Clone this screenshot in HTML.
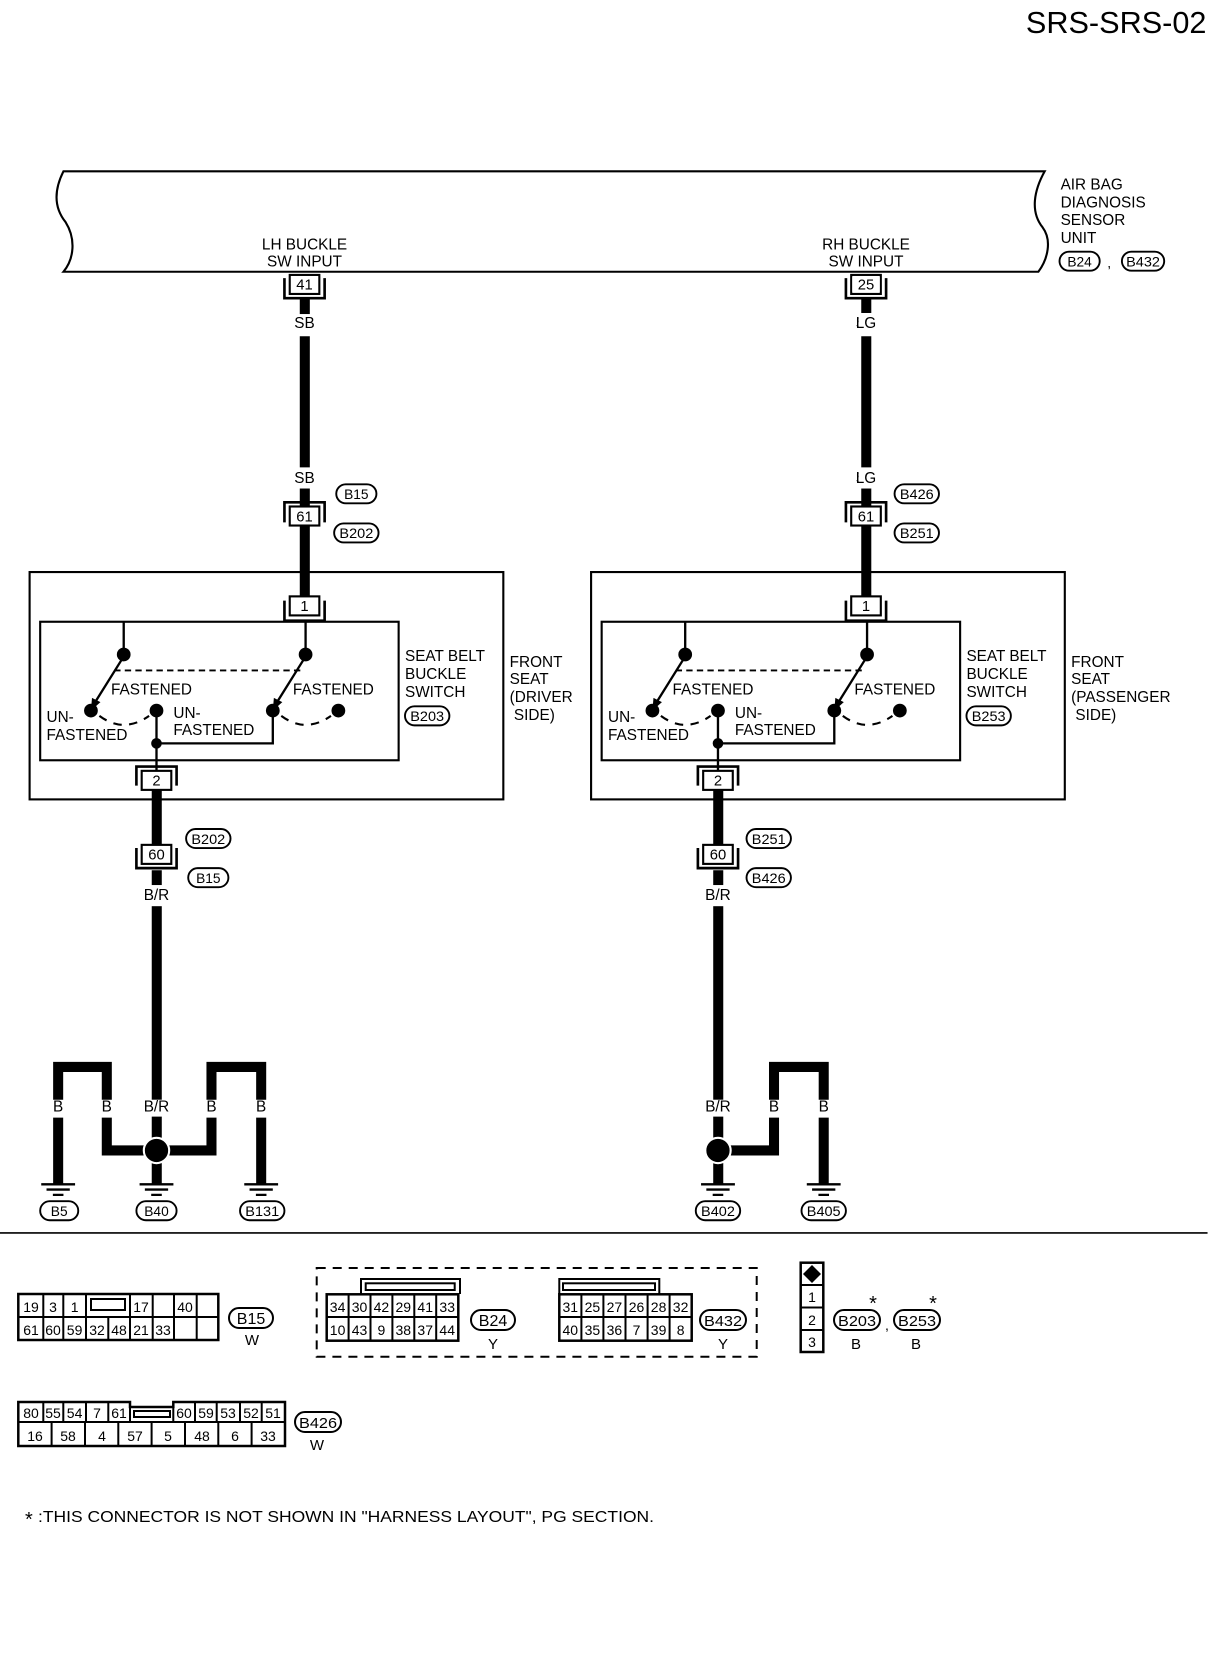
<!DOCTYPE html>
<html><head><meta charset="utf-8"><style>
html,body{margin:0;padding:0;background:#fff;}
svg{display:block;}
text{font-family:"Liberation Sans",sans-serif;fill:#000;}
</style></head><body>
<svg width="1216" height="1660" viewBox="0 0 1216 1660" xmlns="http://www.w3.org/2000/svg">
<rect width="1216" height="1660" fill="#fff"/>
<defs>
  <g id="swl">
    <rect x="38" y="588" width="339" height="131" fill="none" stroke="#000" stroke-width="2"/>
    <path d="M117 588 V619 M289 588 V619" stroke="#000" stroke-width="2.2" fill="none"/>
    <circle cx="117" cy="619" r="6.5"/><circle cx="289" cy="619" r="6.5"/>
    <path d="M115 624 L90 664 M287 624 L262 664" stroke="#000" stroke-width="2.2"/>
    <path d="M86 672 l1 -12 l8 4 z M258 672 l1 -12 l8 4 z" fill="#000"/>
    <path d="M108 634 H284" stroke="#000" stroke-width="1.8" stroke-dasharray="6,4"/>
    <circle cx="86" cy="672" r="6.5"/><circle cx="148" cy="672" r="6.5"/>
    <circle cx="258" cy="672" r="6.5"/><circle cx="320" cy="672" r="6.5"/>
    <path d="M94 677 Q117 694 141 677 M266 677 Q289 694 313 677" stroke="#000" stroke-width="2" fill="none" stroke-dasharray="8,7"/>
    <path d="M148 672 V729 M148 703 H258 V672" stroke="#000" stroke-width="2.2" fill="none"/>
    <circle cx="148" cy="703" r="5"/>
    <text x="105" y="657" font-size="14.5">FASTENED</text>
    <text x="277" y="657" font-size="14.5">FASTENED</text>
    <text x="44" y="683" font-size="14.5">UN-</text>
    <text x="44" y="700" font-size="14.5">FASTENED</text>
    <text x="164" y="679" font-size="14.5">UN-</text>
    <text x="164" y="695" font-size="14.5">FASTENED</text>
    <text x="383" y="625" font-size="14.5">SEAT BELT</text>
    <text x="383" y="642" font-size="14.5">BUCKLE</text>
    <text x="383" y="659" font-size="14.5">SWITCH</text>
    <rect x="28" y="541" width="448" height="215" fill="none" stroke="#000" stroke-width="2"/>
    <rect x="274" y="564" width="28" height="18" fill="#fff" stroke="#000" stroke-width="2"/>
    <text x="288" y="578" font-size="14" text-anchor="middle">1</text>
    <path d="M269 568 V587 H307 V568" fill="none" stroke="#000" stroke-width="2.5"/>
    <rect x="134" y="729" width="28" height="18" fill="#fff" stroke="#000" stroke-width="2"/>
    <text x="148" y="743" font-size="14" text-anchor="middle">2</text>
    <path d="M129 743 V725 H167 V743" fill="none" stroke="#000" stroke-width="2.5"/>
  </g>
</defs>
<g transform="scale(1.0574)">
  <text x="1141" y="31" font-size="29" text-anchor="end">SRS-SRS-02</text>
  <path d="M60 162 H988 C978 180,974 200,986 215 C995 227,991 245,982 257 H60 C70 245,72 226,62 210 C50 195,52 178,60 162 Z" fill="none" stroke="#000" stroke-width="2"/>
  <text x="288" y="236" font-size="14.5" text-anchor="middle">LH BUCKLE</text>
  <text x="288" y="252" font-size="14.5" text-anchor="middle">SW INPUT</text>
  <text x="819" y="236" font-size="14.5" text-anchor="middle">RH BUCKLE</text>
  <text x="819" y="252" font-size="14.5" text-anchor="middle">SW INPUT</text>
  <text x="1003" y="179" font-size="14.5">AIR BAG</text>
  <text x="1003" y="196" font-size="14.5">DIAGNOSIS</text>
  <text x="1003" y="213" font-size="14.5">SENSOR</text>
  <text x="1003" y="230" font-size="14.5">UNIT</text>

  <g id="left">
    <g fill="#000">
      <rect x="283.5" y="283" width="9.5" height="14"/>
      <rect x="283.5" y="318" width="9.5" height="124"/>
      <rect x="283.5" y="462" width="9.5" height="103"/>
      <rect x="143.5" y="747" width="9.5" height="52"/>
      <rect x="143.5" y="823" width="9.5" height="14"/>
      <rect x="143.5" y="857" width="9.5" height="183"/>
      <rect x="143.5" y="1056" width="9.5" height="64"/>
    </g>
    <text x="288" y="310" font-size="14.5" text-anchor="middle">SB</text>
    <text x="288" y="457" font-size="14.5" text-anchor="middle">SB</text>
    <rect x="274" y="260" width="28" height="18" fill="#fff" stroke="#000" stroke-width="2"/>
    <path d="M269 263 V282 H307 V263" fill="none" stroke="#000" stroke-width="2.5"/>
    <rect x="274" y="479" width="28" height="18" fill="#fff" stroke="#000" stroke-width="2"/>
    <path d="M269 494 V475 H307 V494" fill="none" stroke="#000" stroke-width="2.5"/>
    <rect x="134" y="799" width="28" height="18" fill="#fff" stroke="#000" stroke-width="2"/>
    <path d="M129 802 V821 H167 V802" fill="none" stroke="#000" stroke-width="2.5"/>
    <text x="148" y="851" font-size="14.5" text-anchor="middle">B/R</text>
    <use href="#swl"/>
  </g>
  <text x="288" y="274" font-size="14" text-anchor="middle">41</text>
  <text x="288" y="493" font-size="14" text-anchor="middle">61</text>
  <text x="148" y="813" font-size="14" text-anchor="middle">60</text>
  <use href="#left" transform="translate(531,0)"/>
  <rect x="806" y="262" width="26" height="14" fill="#fff"/>
  <text x="819" y="274" font-size="14" text-anchor="middle">25</text>
  <text x="819" y="493" font-size="14" text-anchor="middle">61</text>
  <text x="679" y="813" font-size="14" text-anchor="middle">60</text>
  <rect x="812" y="296" width="16" height="20" fill="#fff"/>
  <rect x="812" y="443" width="16" height="18" fill="#fff"/>
  <text x="819" y="310" font-size="14.5" text-anchor="middle">LG</text>
  <text x="819" y="457" font-size="14.5" text-anchor="middle">LG</text>

  <text x="482" y="631" font-size="14.5">FRONT</text>
  <text x="482" y="647" font-size="14.5">SEAT</text>
  <text x="482" y="664" font-size="14.5">(DRIVER</text>
  <text x="482" y="681" font-size="14.5">&#160;SIDE)</text>
  <text x="1013" y="631" font-size="14.5">FRONT</text>
  <text x="1013" y="647" font-size="14.5">SEAT</text>
  <text x="1013" y="664" font-size="14.5">(PASSENGER</text>
  <text x="1013" y="681" font-size="14.5">&#160;SIDE)</text>

  <g fill="#fff" stroke="#000" stroke-width="1.8">
    <rect x="1002" y="238" width="38" height="18" rx="9"/>
    <rect x="1061" y="238" width="40" height="18" rx="9"/>
    <rect x="318" y="458" width="38" height="18" rx="9"/>
    <rect x="316" y="495" width="42" height="18" rx="9"/>
    <rect x="846" y="458" width="42" height="18" rx="9"/>
    <rect x="846" y="495" width="42" height="18" rx="9"/>
    <rect x="383" y="668" width="42" height="18" rx="9"/>
    <rect x="914" y="668" width="42" height="18" rx="9"/>
    <rect x="176" y="784" width="42" height="18" rx="9"/>
    <rect x="178" y="821" width="38" height="18" rx="9"/>
    <rect x="706" y="784" width="42" height="18" rx="9"/>
    <rect x="706" y="821" width="42" height="18" rx="9"/>
    <rect x="38" y="1136" width="36" height="18" rx="9"/>
    <rect x="129" y="1136" width="38" height="18" rx="9"/>
    <rect x="227" y="1136" width="42" height="18" rx="9"/>
    <rect x="658" y="1136" width="42" height="18" rx="9"/>
    <rect x="758" y="1136" width="42" height="18" rx="9"/>
  </g>
  <g font-size="13" text-anchor="middle">
    <text x="1021" y="252">B24</text><text x="1049" y="253">,</text>
    <text x="1081" y="252" textLength="32" lengthAdjust="spacingAndGlyphs">B432</text>
    <text x="337" y="472">B15</text>
    <text x="337" y="509" textLength="32" lengthAdjust="spacingAndGlyphs">B202</text>
    <text x="867" y="472" textLength="32" lengthAdjust="spacingAndGlyphs">B426</text>
    <text x="867" y="509" textLength="32" lengthAdjust="spacingAndGlyphs">B251</text>
    <text x="404" y="682" textLength="32" lengthAdjust="spacingAndGlyphs">B203</text>
    <text x="935" y="682" textLength="32" lengthAdjust="spacingAndGlyphs">B253</text>
    <text x="197" y="798" textLength="32" lengthAdjust="spacingAndGlyphs">B202</text>
    <text x="197" y="835">B15</text>
    <text x="727" y="798" textLength="32" lengthAdjust="spacingAndGlyphs">B251</text>
    <text x="727" y="835" textLength="32" lengthAdjust="spacingAndGlyphs">B426</text>
    <text x="56" y="1150">B5</text>
    <text x="148" y="1150">B40</text>
    <text x="248" y="1150" textLength="32" lengthAdjust="spacingAndGlyphs">B131</text>
    <text x="679" y="1150" textLength="32" lengthAdjust="spacingAndGlyphs">B402</text>
    <text x="779" y="1150" textLength="32" lengthAdjust="spacingAndGlyphs">B405</text>
  </g>

  <g fill="none" stroke="#000" stroke-width="9.5">
    <path d="M55 1040 V1009 H101 V1040"/>
    <path d="M101 1057 V1088 H140"/>
    <path d="M55 1057 V1120"/>
    <path d="M200 1040 V1009 H247 V1040"/>
    <path d="M156 1088 H200 V1057"/>
    <path d="M247 1057 V1120"/>
    <path d="M732 1040 V1009 H779 V1040"/>
    <path d="M687 1088 H732 V1057"/>
    <path d="M779 1057 V1120"/>
  </g>
  <circle cx="148" cy="1088" r="12" fill="#000" stroke="#fff" stroke-width="2"/>
  <circle cx="679" cy="1088" r="12" fill="#000" stroke="#fff" stroke-width="2"/>
  <g font-size="14.5" text-anchor="middle">
    <text x="55" y="1051">B</text><text x="101" y="1051">B</text><text x="200" y="1051">B</text><text x="247" y="1051">B</text>
    <text x="148" y="1051">B/R</text>
    <text x="679" y="1051">B/R</text><text x="732" y="1051">B</text><text x="779" y="1051">B</text>
  </g>
  <g stroke="#000" stroke-width="2.2">
    <path d="M39 1120 H71 M44 1125 H66 M50 1130 H60"/>
    <path d="M132 1120 H164 M137 1125 H159 M143 1130 H153"/>
    <path d="M231 1120 H263 M236 1125 H258 M242 1130 H252"/>
    <path d="M663 1120 H695 M668 1125 H690 M674 1130 H684"/>
    <path d="M763 1120 H795 M768 1125 H790 M774 1130 H784"/>
  </g>
  <path d="M0 1166 H1142" stroke="#000" stroke-width="1.5"/>
</g>

<g stroke="#000" fill="none">
  <rect x="18.3" y="1294" width="200" height="46" stroke-width="2.5"/>
  <path d="M18.3 1317 H218.3 M43.3 1294 V1340 M63.3 1294 V1340 M86 1294 V1340 M130 1294 V1340 M152.7 1294 V1340 M174 1294 V1340 M196.7 1294 V1340 M108.3 1317 V1340" stroke-width="2"/>
  <rect x="91" y="1299" width="34" height="11" stroke-width="2"/>
  <path d="M18.3 1402 H130 V1407 H173.3 V1402 H285 V1446 H18.3 Z" stroke-width="2.5"/>
  <path d="M18.3 1422 H285 M43.3 1402 V1422 M63.3 1402 V1422 M86 1402 V1422 M108.3 1402 V1422 M130 1407 V1422 M173.3 1407 V1422 M195 1402 V1422 M216.7 1402 V1422 M240 1402 V1422 M261.7 1402 V1422" stroke-width="2"/>
  <path d="M51.6 1422 V1446 M85 1422 V1446 M118.3 1422 V1446 M151.6 1422 V1446 M185 1422 V1446 M218.3 1422 V1446 M251.6 1422 V1446" stroke-width="2"/>
  <rect x="134" y="1411" width="36" height="6" stroke-width="2"/>
  <rect x="316.7" y="1268" width="440" height="88.7" stroke-width="2" stroke-dasharray="9,7"/>
  <rect x="326.7" y="1294.3" width="131.6" height="46.4" stroke-width="2.5"/>
  <path d="M326.7 1317 H458.3 M348.6 1294 V1341 M370.5 1294 V1341 M392.4 1294 V1341 M414.3 1294 V1341 M436.2 1294 V1341" stroke-width="2"/>
  <path d="M361 1294 V1279 H460 V1294" stroke-width="2"/>
  <rect x="365.7" y="1283.3" width="89" height="6.7" stroke-width="2"/>
  <rect x="559.3" y="1294.3" width="132.4" height="46.4" stroke-width="2.5"/>
  <path d="M559.3 1317 H691.7 M581.4 1294 V1341 M603.4 1294 V1341 M625.5 1294 V1341 M647.6 1294 V1341 M669.6 1294 V1341" stroke-width="2"/>
  <path d="M559.3 1294 V1279 H659.3 V1294" stroke-width="2"/>
  <rect x="563" y="1283.3" width="92" height="6.7" stroke-width="2"/>
  <rect x="800.7" y="1262.7" width="22.6" height="89.3" stroke-width="2.5"/>
  <path d="M800.7 1285 H823.3 M800.7 1307.5 H823.3 M800.7 1330 H823.3" stroke-width="2"/>
  <rect x="229" y="1308" width="44" height="20" rx="10" stroke-width="2"/>
  <rect x="295" y="1412" width="46" height="20" rx="10" stroke-width="2"/>
  <rect x="471" y="1310" width="44" height="20" rx="10" stroke-width="2"/>
  <rect x="700" y="1310" width="46" height="20" rx="10" stroke-width="2"/>
  <rect x="834" y="1310" width="46" height="20" rx="10" stroke-width="2"/>
  <rect x="894" y="1310" width="46" height="20" rx="10" stroke-width="2"/>
</g>
<path d="M812 1265 L821 1274 L812 1283 L803 1274 Z" fill="#000"/>
<g font-size="14" text-anchor="middle">
  <text x="31" y="1312">19</text><text x="53" y="1312">3</text><text x="74.6" y="1312">1</text>
  <text x="141" y="1312">17</text><text x="185" y="1312">40</text>
  <text x="31" y="1335">61</text><text x="53" y="1335">60</text><text x="74.6" y="1335">59</text>
  <text x="97" y="1335">32</text><text x="119" y="1335">48</text><text x="141" y="1335">21</text><text x="163" y="1335">33</text>
  <text x="31" y="1418">80</text><text x="53" y="1418">55</text><text x="74.6" y="1418">54</text>
  <text x="97" y="1418">7</text><text x="119" y="1418">61</text>
  <text x="184" y="1418">60</text><text x="206" y="1418">59</text><text x="228" y="1418">53</text>
  <text x="251" y="1418">52</text><text x="273" y="1418">51</text>
  <text x="35" y="1441">16</text><text x="68" y="1441">58</text><text x="102" y="1441">4</text>
  <text x="135" y="1441">57</text><text x="168" y="1441">5</text><text x="202" y="1441">48</text>
  <text x="235" y="1441">6</text><text x="268" y="1441">33</text>
  <text x="337.6" y="1312">34</text><text x="359.5" y="1312">30</text><text x="381.4" y="1312">42</text>
  <text x="403.3" y="1312">29</text><text x="425.2" y="1312">41</text><text x="447.2" y="1312">33</text>
  <text x="337.6" y="1335">10</text><text x="359.5" y="1335">43</text><text x="381.4" y="1335">9</text>
  <text x="403.3" y="1335">38</text><text x="425.2" y="1335">37</text><text x="447.2" y="1335">44</text>
  <text x="570.3" y="1312">31</text><text x="592.4" y="1312">25</text><text x="614.4" y="1312">27</text>
  <text x="636.5" y="1312">26</text><text x="658.6" y="1312">28</text><text x="680.6" y="1312">32</text>
  <text x="570.3" y="1335">40</text><text x="592.4" y="1335">35</text><text x="614.4" y="1335">36</text>
  <text x="636.5" y="1335">7</text><text x="658.6" y="1335">39</text><text x="680.6" y="1335">8</text>
  <text x="812" y="1302">1</text><text x="812" y="1325">2</text><text x="812" y="1347">3</text>
  <text x="251" y="1324" font-size="16">B15</text>
  <text x="318" y="1428" font-size="15" textLength="38" lengthAdjust="spacingAndGlyphs">B426</text>
  <text x="493" y="1326" font-size="16">B24</text>
  <text x="723" y="1326" font-size="15" textLength="38" lengthAdjust="spacingAndGlyphs">B432</text>
  <text x="857" y="1326" font-size="15" textLength="38" lengthAdjust="spacingAndGlyphs">B203</text>
  <text x="917" y="1326" font-size="15" textLength="38" lengthAdjust="spacingAndGlyphs">B253</text>
  <text x="887" y="1330" font-size="14">,</text>
  <text x="873" y="1310" font-size="20">*</text><text x="933" y="1310" font-size="20">*</text>
  <text x="252" y="1345" font-size="15">W</text>
  <text x="317" y="1450" font-size="15">W</text>
  <text x="493" y="1349" font-size="15">Y</text>
  <text x="723" y="1349" font-size="15">Y</text>
  <text x="856" y="1349" font-size="15">B</text>
  <text x="916" y="1349" font-size="15">B</text>
</g>
<text x="25" y="1526" font-size="20">*</text>
<text x="38" y="1522" font-size="15.5" textLength="616" lengthAdjust="spacingAndGlyphs">:THIS CONNECTOR IS NOT SHOWN IN "HARNESS LAYOUT", PG SECTION.</text>
</svg>
</body></html>
